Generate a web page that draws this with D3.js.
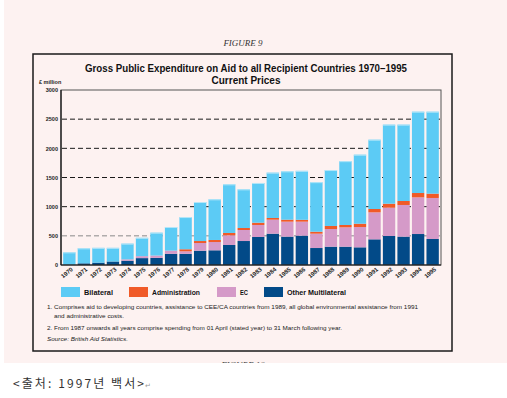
<!DOCTYPE html>
<html><head><meta charset="utf-8">
<script src="https://cdn.jsdelivr.net/npm/d3@7"></script>
<style>
html,body{margin:0;padding:0;background:#fff;}
svg{display:block;}
</style></head>
<body>
<script>
const years = ["1970","1971","1972","1973","1974","1975","1976","1977","1978","1979","1980","1981","1982","1983","1984","1985","1986","1987","1988","1989","1990","1991","1992","1993","1994","1995"];
const otherMultilateral = [0,29,40,60,74,118,122,192,192,245,252,343,411,480,537,486,503,291,314,314,303,440,497,486,531,446];
const ec = [0,0,0,0,23,34,40,54,43,132,142,166,189,206,240,257,240,246,303,332,348,463,486,543,629,703];
const administration = [0,0,0,0,0,0,0,0,35,34,35,40,34,39,29,34,32,34,52,40,57,57,68,68,74,74];
const bilateral = [217,257,254,234,269,314,392,405,552,669,697,834,663,681,777,829,839,849,959,1094,1183,1188,1355,1309,1394,1405];
const yTicks = [0,500,1000,1500,2000,2500,3000];
const seriesNames = ["Other Multilateral","EC","Administration","Bilateral"];
const seriesColors = {"Bilateral":"#5ccbf5","Administration":"#f05a28","EC":"#d59ac8","Other Multilateral":"#024a88"};
const legendOrder = ["Bilateral","Administration","EC","Other Multilateral"];

const W=507,H=398;
const svg=d3.select("body").append("svg").attr("width",W).attr("height",H);
svg.append("rect").attr("x",0).attr("y",0).attr("width",W).attr("height",H).attr("fill","#fff");
svg.append("rect").attr("x",4).attr("y",0).attr("width",503).attr("height",363).attr("fill","#fdf2f1");

// partially visible next figure caption
const clip=svg.append("defs").append("clipPath").attr("id","cp");
clip.append("rect").attr("x",0).attr("y",0).attr("width",W).attr("height",363);
svg.append("text").attr("clip-path","url(#cp)").attr("x",243).attr("y",368)
  .attr("text-anchor","middle").attr("font-family","Liberation Serif").attr("font-style","italic")
  .attr("font-size",9).attr("fill","#444").text("FIGURE 10");

svg.append("text").attr("x",243).attr("y",46).attr("text-anchor","middle")
  .attr("font-family","Liberation Serif").attr("font-style","italic").attr("font-size",9)
  .attr("fill","#333").text("FIGURE 9");

svg.append("rect").attr("x",33).attr("y",54).attr("width",419).attr("height",297)
  .attr("fill","none").attr("stroke","#1a1a1a").attr("stroke-width",1.5);

svg.append("text").attr("x",246).attr("y",72).attr("text-anchor","middle")
  .attr("font-family","Liberation Sans").attr("font-weight","bold").attr("font-size",10)
  .attr("textLength",322).attr("lengthAdjust","spacingAndGlyphs").attr("fill","#111")
  .text("Gross Public Expenditure on Aid to all Recipient Countries  1970–1995");
svg.append("text").attr("x",246).attr("y",84).attr("text-anchor","middle")
  .attr("font-family","Liberation Sans").attr("font-weight","bold").attr("font-size",10)
  .attr("fill","#111").text("Current Prices");
svg.append("text").attr("x",39).attr("y",84)
  .attr("font-family","Liberation Sans").attr("font-weight","bold").attr("font-size",5.5)
  .attr("fill","#222").text("£ million");

const x=d3.scaleBand().domain(years).range([61,441]).paddingInner(0.15).paddingOuter(0.15);
const y=d3.scaleLinear().domain([0,3000]).range([265,90]);

// gridlines
svg.append("g").selectAll("line").data(yTicks.filter(t=>t>0&&t<3000)).join("line")
  .attr("x1",62).attr("x2",440).attr("y1",d=>y(d)).attr("y2",d=>y(d))
  .attr("stroke",d=>d===500?"#8a8a8a":"#1a1a1a").attr("stroke-width",1)
  .attr("stroke-dasharray","5,3");

// stacked bars
const table=years.map((yr,i)=>({year:yr,"Other Multilateral":otherMultilateral[i],"EC":ec[i],"Administration":administration[i],"Bilateral":bilateral[i]}));
const stack=d3.stack().keys(seriesNames)(table);
const g=svg.append("g");
stack.forEach(layer=>{
  g.append("g").attr("fill",seriesColors[layer.key]).selectAll("rect").data(layer).join("rect")
   .attr("x",d=>x(d.data.year)).attr("width",x.bandwidth())
   .attr("y",d=>y(d[1])).attr("height",d=>Math.max(0,y(d[0])-y(d[1])));
});
// light top edge on bars
g.append("g").selectAll("line").data(table).join("line")
  .attr("x1",d=>x(d.year)).attr("x2",d=>x(d.year)+x.bandwidth())
  .attr("y1",(d,i)=>y(otherMultilateral[i]+ec[i]+administration[i]+bilateral[i])+0.5)
  .attr("y2",(d,i)=>y(otherMultilateral[i]+ec[i]+administration[i]+bilateral[i])+0.5)
  .attr("stroke","#b5e6f8").attr("stroke-width",1);

// plot frame
svg.append("rect").attr("x",61).attr("y",90).attr("width",380).attr("height",175)
  .attr("fill","none").attr("stroke","#555").attr("stroke-width",1);
svg.append("line").attr("x1",61).attr("x2",61).attr("y1",90).attr("y2",265).attr("stroke","#111").attr("stroke-width",1.2);
svg.append("line").attr("x1",61).attr("x2",441).attr("y1",265).attr("y2",265).attr("stroke","#111").attr("stroke-width",1.2);

// y axis
const yAxis=svg.append("g").attr("transform","translate(61,0)")
  .call(d3.axisLeft(y).tickValues(yTicks).tickSize(0).tickPadding(3).tickFormat(d3.format("d")));
yAxis.select(".domain").remove();
yAxis.selectAll("text").attr("font-family","Liberation Sans").attr("font-weight","bold")
  .attr("font-size",5.5).attr("fill","#222");

// x axis
const xAxis=svg.append("g").attr("transform","translate(0,265)")
  .call(d3.axisBottom(x).tickSize(0).tickPadding(0));
xAxis.select(".domain").remove();
xAxis.selectAll("text").attr("font-family","Liberation Sans").attr("font-weight","bold")
  .attr("font-size",6).attr("fill","#222")
  .attr("text-anchor","end").attr("dy",0)
  .attr("transform","translate(4,5) rotate(-40)");

// legend
const legX={"Bilateral":61,"Administration":129,"EC":217,"Other Multilateral":264};
const legW={"Bilateral":29,"Administration":48,"EC":8,"Other Multilateral":59};
const lg=svg.append("g");
legendOrder.forEach(k=>{
  lg.append("rect").attr("x",legX[k]).attr("y",287).attr("width",19).attr("height",10).attr("fill",seriesColors[k]);
  lg.append("text").attr("x",legX[k]+23).attr("y",295).attr("font-family","Liberation Sans")
    .attr("font-weight","bold").attr("font-size",7.5).attr("fill","#111")
    .attr("textLength",legW[k]).attr("lengthAdjust","spacingAndGlyphs").text(k);
});

// footnotes
const notes=[
 {t:"1. Comprises aid to developing countries, assistance to CEE/CA countries from 1989, all global environmental assistance from 1991",x:47,y:309,w:371,it:false},
 {t:"and administrative costs.",x:54,y:318,w:70,it:false},
 {t:"2. From 1987 onwards all years comprise spending from 01 April (stated year) to 31 March following year.",x:47,y:330,w:295,it:false},
 {t:"Source: British Aid Statistics.",x:47,y:341,w:81,it:true}
];
svg.append("g").selectAll("text").data(notes).join("text")
  .attr("x",d=>d.x).attr("y",d=>d.y).attr("font-family","Liberation Sans").attr("font-size",5.8)
  .attr("font-style",d=>d.it?"italic":"normal").attr("fill","#222")
  .attr("textLength",d=>d.w).attr("lengthAdjust","spacingAndGlyphs").text(d=>d.t);

// caption
svg.append("text").attr("x",13).attr("y",388).attr("font-family","Noto Sans CJK KR")
  .attr("font-size",12).attr("fill","#333")
  .attr("textLength",131).attr("lengthAdjust","spacing").text("<출처: 1997년 백서>");
svg.append("text").attr("x",145).attr("y",388).attr("font-family","DejaVu Sans")
  .attr("font-size",7).attr("fill","#999").text("↵");
</script>
</body></html>
